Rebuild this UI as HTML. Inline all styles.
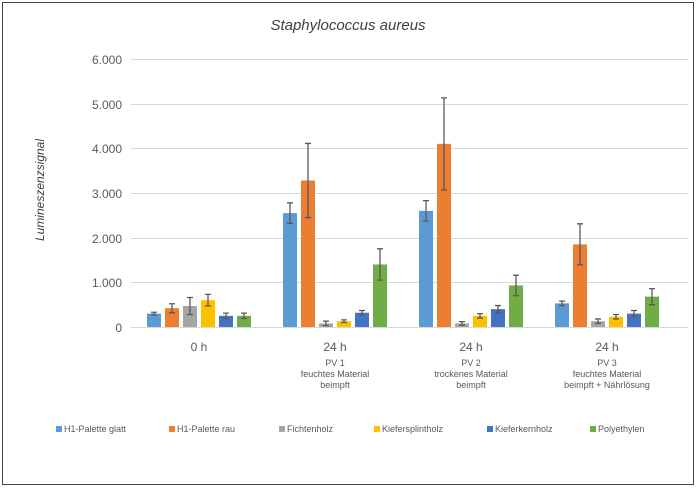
<!DOCTYPE html><html><head><style>body{margin:0;background:#fff}svg text{font-family:"Liberation Sans",sans-serif}</style></head><body>
<svg width="697" height="488" xmlns="http://www.w3.org/2000/svg">
<rect x="2.5" y="2.5" width="691" height="482" fill="#fff" stroke="#444" stroke-width="1"/>
<text x="348" y="30" font-size="15" font-style="italic" text-anchor="middle" fill="#404040">Staphylococcus aureus</text>
<text transform="translate(44,190) rotate(-90)" font-size="12" font-style="italic" text-anchor="middle" fill="#404040">Lumineszenzsignal</text>
<g stroke="#d9d9d9" stroke-width="1">
<line x1="131" x2="688" y1="59.5" y2="59.5"/><line x1="131" x2="688" y1="104.5" y2="104.5"/><line x1="131" x2="688" y1="148.5" y2="148.5"/><line x1="131" x2="688" y1="193.5" y2="193.5"/><line x1="131" x2="688" y1="238.5" y2="238.5"/><line x1="131" x2="688" y1="282.5" y2="282.5"/><line x1="131" x2="688" y1="327.5" y2="327.5"/>
</g>
<g font-size="12" fill="#595959" text-anchor="end">
<text x="122" y="64">6.000</text><text x="122" y="109">5.000</text><text x="122" y="153">4.000</text><text x="122" y="198">3.000</text><text x="122" y="243">2.000</text><text x="122" y="287">1.000</text><text x="122" y="332">0</text>
</g>
<g>
<rect x="147" y="313.6" width="14" height="13.4" fill="#5B9BD5"/>
<rect x="165" y="308.24" width="14" height="18.76" fill="#ED7D31"/>
<rect x="183" y="306.01" width="14" height="20.99" fill="#A5A5A5"/>
<rect x="201" y="300.2" width="14" height="26.8" fill="#FFC000"/>
<rect x="219" y="315.83" width="14" height="11.17" fill="#4472C4"/>
<rect x="237" y="315.83" width="14" height="11.17" fill="#70AD47"/>

<rect x="283" y="213.1" width="14" height="113.9" fill="#5B9BD5"/>
<rect x="301" y="180.5" width="14" height="146.5" fill="#ED7D31"/>
<rect x="319" y="323.43" width="14" height="3.57" fill="#A5A5A5"/>
<rect x="337" y="321.19" width="14" height="5.81" fill="#FFC000"/>
<rect x="355" y="312.71" width="14" height="14.29" fill="#4472C4"/>
<rect x="373" y="264.47" width="14" height="62.53" fill="#70AD47"/>

<rect x="419" y="210.87" width="14" height="116.13" fill="#5B9BD5"/>
<rect x="437" y="143.87" width="14" height="183.13" fill="#ED7D31"/>
<rect x="455" y="323.43" width="14" height="3.57" fill="#A5A5A5"/>
<rect x="473" y="315.83" width="14" height="11.17" fill="#FFC000"/>
<rect x="491" y="309.13" width="14" height="17.87" fill="#4472C4"/>
<rect x="509" y="285.46" width="14" height="41.54" fill="#70AD47"/>

<rect x="555" y="303.33" width="14" height="23.67" fill="#5B9BD5"/>
<rect x="573" y="244.37" width="14" height="82.63" fill="#ED7D31"/>
<rect x="591" y="321.19" width="14" height="5.81" fill="#A5A5A5"/>
<rect x="609" y="316.73" width="14" height="10.27" fill="#FFC000"/>
<rect x="627" y="313.6" width="14" height="13.4" fill="#4472C4"/>
<rect x="645" y="296.63" width="14" height="30.37" fill="#70AD47"/>
</g>
<path stroke="#595959" stroke-width="1.3" fill="none" d="
M154 312.26V314.94M151 312.26h6M151 314.94h6
M172 303.77V312.71M169 303.77h6M169 312.71h6
M190 297.52V314.49M187 297.52h6M187 314.49h6
M208 294.39V306.01M205 294.39h6M205 306.01h6
M226 313.15V318.51M223 313.15h6M223 318.51h6
M244 313.15V318.51M241 313.15h6M241 318.51h6
M290 202.83V223.37M287 202.83h6M287 223.37h6
M308 143.42V217.56M305 143.42h6M305 217.56h6
M326 321.19V325.66M323 321.19h6M323 325.66h6
M344 319.85V322.53M341 319.85h6M341 322.53h6
M362 310.47V314.94M359 310.47h6M359 314.94h6
M380 248.83V280.1M377 248.83h6M377 280.1h6
M426 200.59V221.14M423 200.59h6M423 221.14h6
M444 97.86V189.87M441 97.86h6M441 189.87h6
M462 321.64V325.21M459 321.64h6M459 325.21h6
M480 313.6V318.07M477 313.6h6M477 318.07h6
M498 305.56V312.71M495 305.56h6M495 312.71h6
M516 275.19V295.73M513 275.19h6M513 295.73h6
M562 301.09V305.56M559 301.09h6M559 305.56h6
M580 223.82V264.91M577 223.82h6M577 264.91h6
M598 318.96V323.43M595 318.96h6M595 323.43h6
M616 314.49V318.96M613 314.49h6M613 318.96h6
M634 310.47V316.73M631 310.47h6M631 316.73h6
M652 288.59V304.67M649 288.59h6M649 304.67h6"/>
<g font-size="12" fill="#595959" text-anchor="middle">
<text x="199" y="351">0 h</text>
<text x="335" y="351">24 h</text><text x="471" y="351">24 h</text><text x="607" y="351">24 h</text>
</g>
<g font-size="9" fill="#595959" text-anchor="middle">
<text x="335" y="366">PV 1</text><text x="335" y="377">feuchtes Material</text><text x="335" y="388">beimpft</text>
<text x="471" y="366">PV 2</text><text x="471" y="377">trockenes Material</text><text x="471" y="388">beimpft</text>
<text x="607" y="366">PV 3</text><text x="607" y="377">feuchtes Material</text><text x="607" y="388">beimpft + Nährlösung</text>
</g>
<g font-size="9" fill="#595959">
<rect x="56" y="426" width="6" height="6" fill="#5B9BD5"/><text x="64" y="432">H1-Palette glatt</text>
<rect x="169" y="426" width="6" height="6" fill="#ED7D31"/><text x="177" y="432">H1-Palette rau</text>
<rect x="279" y="426" width="6" height="6" fill="#A5A5A5"/><text x="287" y="432">Fichtenholz</text>
<rect x="374" y="426" width="6" height="6" fill="#FFC000"/><text x="382" y="432">Kiefersplintholz</text>
<rect x="487" y="426" width="6" height="6" fill="#4472C4"/><text x="495" y="432">Kieferkernholz</text>
<rect x="590" y="426" width="6" height="6" fill="#70AD47"/><text x="598" y="432">Polyethylen</text>
</g>
</svg></body></html>
